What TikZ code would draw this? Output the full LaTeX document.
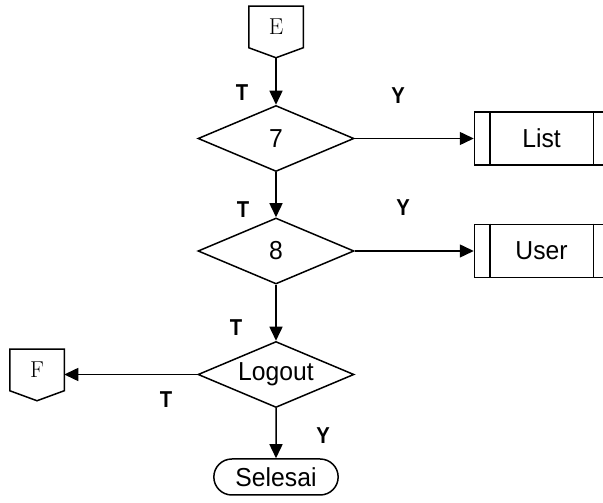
\documentclass[tikz,border=0pt]{standalone}
\usepackage{fontspec}
\setsansfont{Liberation Sans}[FakeStretch=0.95]
\newfontfamily\lblfont{Liberation Sans}[FakeStretch=0.88]
\usetikzlibrary{arrows.meta, positioning, shapes.geometric, shapes.misc}
\tikzstyle{flowchart}=[line width=1.5pt, >={Triangle[length=14pt,width=13pt]}, font=\sffamily\fontsize{26}{30}\selectfont]
\tikzstyle{decision}=[diamond, draw, aspect=2.36, minimum width=156pt, minimum height=66pt, inner sep=0pt]
\tikzstyle{subproc}=[rectangle, draw, minimum width=134pt, minimum height=53pt]
\tikzstyle{terminal}=[rounded rectangle, draw, minimum width=131pt, minimum height=36pt]
\tikzstyle{offpage}=[rectangle, minimum width=53pt, minimum height=40pt, font=\rmfamily\fontsize{23}{27}\selectfont]
\tikzstyle{answer}=[font=\lblfont\bfseries\fontsize{23}{26}\selectfont]

\begin{document}
\begin{tikzpicture}[flowchart, x=1pt, y=1pt]
  \useasboundingbox (0,0) rectangle (603,503);
  \clip (0,0) rectangle (603,503);
  \node[offpage] (E) at (276,476) {E};
  \node[decision] (7) [below=57pt of E] {7};
  \node[decision] (8) [below=45pt of 7] {8};
  \node[decision] (logout) [below=56pt of 8] {Logout};
  \node[terminal] (end) [below=50pt of logout] {Selesai};
  \node[subproc] (list) [right=119pt of 7] {List};
  \node[subproc] (user) [right=119pt of 8] {User};
  \node[offpage] (F) [left=133pt of logout, yshift=4.5pt] {F};
  \coordinate (Etip) at ([yshift=-10pt]E.south);
  \coordinate (Ftip) at ([yshift=-10pt]F.south);
  \foreach \o in {E,F}
    \draw (\o.north west) -- (\o.north east) -- (\o.south east) -- (\o tip) -- (\o.south west) -- cycle;
  \foreach \p in {list,user}
    \draw ([xshift=16pt]\p.north west) -- ([xshift=16pt]\p.south west)
          ([xshift=-16pt]\p.north east) -- ([xshift=-16pt]\p.south east);
  \path[->] (Etip) edge (7);
  \path[->] (7) edge (8);
  \path[->] (7) edge (list);
  \path[->] (8) edge (logout);
  \path[->] (8) edge (user);
  \path[->] (logout) edge (end);
  \path[->] (logout.west) edge (logout.west -| F.east);
  \node[answer] (t7) at (242,410) {T};
  \node[answer] (y7) at (398,407) {Y};
  \node[answer] (t8) at (243,293) {T};
  \node[answer] (y8) at (403,295) {Y};
  \node[answer] (tl) at (236,175) {T};
  \node[answer] (tf) at (166,103) {T};
  \node[answer] (ye) at (323,67) {Y};
\end{tikzpicture}
\end{document}
